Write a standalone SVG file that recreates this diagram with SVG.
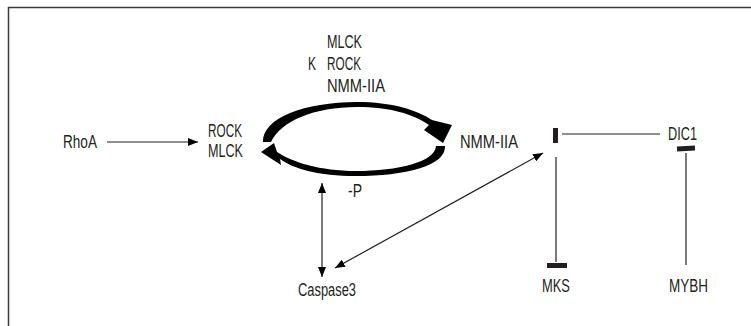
<svg xmlns="http://www.w3.org/2000/svg" width="751" height="326" viewBox="0 0 751 326">
  <style>
    .lbl { font-family: "Liberation Sans", Arial, sans-serif; font-size: 17.5px; fill: #231f20; }
    .ln { stroke: #231f20; stroke-width: 1.2; fill: none; }
    .bar { fill: #231f20; }
    .cyc { fill: #000; }
  </style>
  <defs>
    <marker id="head" viewBox="0 0 10 8" refX="10" refY="4" markerWidth="10" markerHeight="8" markerUnits="userSpaceOnUse" orient="auto-start-reverse">
      <path d="M0,0 L10,4 L0,8 Z" fill="#000"/>
    </marker>
  </defs>

  <rect width="751" height="326" fill="#fff"/>
  <!-- frame (top and left edges) -->
  <path d="M8.5,326 L8.5,7.5 L751,7.5" fill="none" stroke="#3a3a3a" stroke-width="1.5"/>

  <!-- phosphorylation cycle -->
  <g id="cycle">
    <path class="cyc" d="M263,142 C262,118 305,102 357,102 C392,102 417,110 432,120 L452,125 L443,143 L424,130 L429,125 C413,114 390,107 357,107 C314,107 281,121 271,142 Z"/>
    <path class="cyc" d="M436,146 L445,146 C446,166 405,176 356,176 C318,176 294,169 280,159 L281,165 L261,152 L274,143 L277,152 C292,162 320,171 356,171 C398,171 435,162 436,146 Z"/>
  </g>

  <g id="kinases">
    <text class="lbl" x="327" y="48" textLength="35" lengthAdjust="spacingAndGlyphs">MLCK</text>
    <text class="lbl" x="308" y="70" textLength="8" lengthAdjust="spacingAndGlyphs">K</text>
    <text class="lbl" x="327" y="70" textLength="34" lengthAdjust="spacingAndGlyphs">ROCK</text>
    <text class="lbl" x="327" y="92" textLength="58" lengthAdjust="spacingAndGlyphs">NMM-IIA</text>
  </g>
  <g id="rhoa">
    <text class="lbl" x="63" y="148" textLength="34" lengthAdjust="spacingAndGlyphs">RhoA</text>
  </g>
  <g id="rock-mlck">
    <text class="lbl" x="208" y="137" textLength="34" lengthAdjust="spacingAndGlyphs">ROCK</text>
    <text class="lbl" x="208" y="157" textLength="35" lengthAdjust="spacingAndGlyphs">MLCK</text>
  </g>
  <g id="nmm-iia">
    <text class="lbl" x="460" y="148" textLength="58" lengthAdjust="spacingAndGlyphs">NMM-IIA</text>
  </g>
  <g id="dephos">
    <text class="lbl" x="348" y="197" textLength="14" lengthAdjust="spacingAndGlyphs">-P</text>
  </g>
  <g id="caspase3">
    <text class="lbl" x="298" y="296" textLength="58" lengthAdjust="spacingAndGlyphs">Caspase3</text>
  </g>
  <g id="dic1">
    <text class="lbl" x="668" y="140" textLength="29" lengthAdjust="spacingAndGlyphs">DIC1</text>
  </g>
  <g id="mks">
    <text class="lbl" x="542" y="292" textLength="28" lengthAdjust="spacingAndGlyphs">MKS</text>
  </g>
  <g id="mybh">
    <text class="lbl" x="669" y="292" textLength="39" lengthAdjust="spacingAndGlyphs">MYBH</text>
  </g>

  <g id="connectors">
    <!-- activation arrows -->
    <line class="ln" x1="107" y1="142" x2="198" y2="142" marker-end="url(#head)"/>
    <line class="ln" x1="322" y1="183" x2="322" y2="277" marker-start="url(#head)" marker-end="url(#head)"/>
    <line class="ln" x1="335" y1="268" x2="543" y2="153" marker-start="url(#head)" marker-end="url(#head)"/>
    <!-- inhibition links -->
    <rect class="bar" x="553" y="128" width="5" height="15"/>
    <line class="ln" x1="562" y1="134" x2="660" y2="134"/>
    <line class="ln" x1="556" y1="157" x2="556" y2="262"/>
    <rect class="bar" x="547" y="263" width="20" height="5"/>
    <rect class="bar" x="677" y="146" width="18" height="5" transform="rotate(-3 686 148.5)"/>
    <line class="ln" x1="686" y1="153" x2="686" y2="265"/>
  </g>
</svg>
